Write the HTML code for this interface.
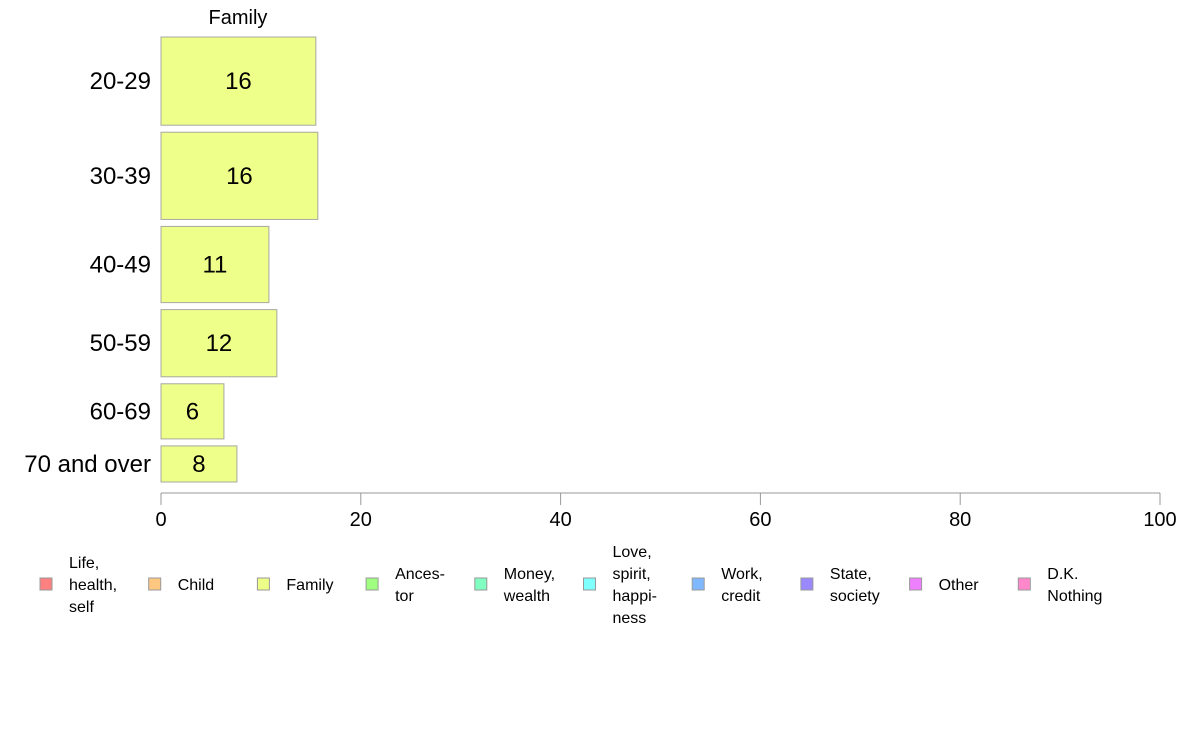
<!DOCTYPE html>
<html><head><meta charset="utf-8"><style>
body{margin:0;background:#fff;width:1188px;height:736px;overflow:hidden}
svg{font-family:"Liberation Sans",Arial,sans-serif}
</style></head><body>
<svg id="chart" width="1188" height="736">
<text x="238" y="24" font-size="20" text-anchor="middle">Family</text>
<g id="bars"></g><g id="axis"></g><g id="legend"></g>
</svg>
<script>
const categories = ["20-29","30-39","40-49","50-59","60-69","70 and over"];
const values = [15.5, 15.7, 10.8, 11.6, 6.3, 7.6];
const labels = ["16","16","11","12","6","8"];
const groupWeights = [88, 87, 76, 67, 55, 36];
const ticks = [0,20,40,60,80,100];
const legendItems = [["Life,","health,","self"],["Child"],["Family"],["Ances-","tor"],["Money,","wealth"],["Love,","spirit,","happi-","ness"],["Work,","credit"],["State,","society"],["Other"],["D.K.","Nothing"]];
const legendColors = ["#ff8080","#ffc880","#eeff88","#a0ff80","#80ffc0","#80ffff","#80b8ff","#9a88ff","#ee80ff","#ff88cc"];

const NS="http://www.w3.org/2000/svg";
const x0=161, x1=1160, yTop=37, yBot=482, gap=7;
const xs=v=>x0+(v/100)*(x1-x0);
const totalW=groupWeights.reduce((a,b)=>a+b,0);
const avail=(yBot-yTop)-gap*(categories.length-1);
const bars=document.getElementById('bars');
let y=yTop;
function mk(tag,attrs,parent){const e=document.createElementNS(NS,tag);for(const k in attrs)e.setAttribute(k,attrs[k]);parent.appendChild(e);return e;}
categories.forEach((c,i)=>{
  const h=avail*groupWeights[i]/totalW;
  const r=mk('rect',{x:x0,y:y,width:xs(values[i])-x0,height:h,fill:"#eeff8a",stroke:"#a8a8a0","stroke-width":1},bars);
  
  
  const t=mk('text',{x:(x0+xs(values[i]))/2,y:y+h/2+8,"font-size":24,"text-anchor":"middle"},bars);
  t.textContent=labels[i];
  
  
  const l=mk('text',{x:151,y:y+h/2+8,"font-size":24,"text-anchor":"end"},bars);
  l.textContent=c;
  
  
  y+=h+gap;
});
const ax=document.getElementById('axis');
const al=mk('line',{x1:x0,x2:x1,y1:493,y2:493,stroke:"#999","stroke-width":1},ax);


ticks.forEach(t=>{
  const tl=mk('line',{x1:xs(t),x2:xs(t),y1:493,y2:505,stroke:"#999","stroke-width":1},ax);
  
  
  const tx=mk('text',{x:xs(t),y:526,"font-size":20,"text-anchor":"middle"},ax);
  tx.textContent=t;
  
  
});
const lg=document.getElementById('legend');
legendItems.forEach((lines,i)=>{
  const tx0=69+i*108.7;
  const g=mk('g',{},lg);
  
  
  mk('rect',{x:tx0-29,y:578,width:12,height:12,fill:legendColors[i],stroke:"#999","stroke-width":1},g);
  const lh=22, start=584-(lines.length-1)*lh/2;
  lines.forEach((s,j)=>{
    const t=mk('text',{x:tx0,y:start+j*lh+6,"font-size":16},g);
    t.textContent=s;
  });
});
</script>
</body></html>
